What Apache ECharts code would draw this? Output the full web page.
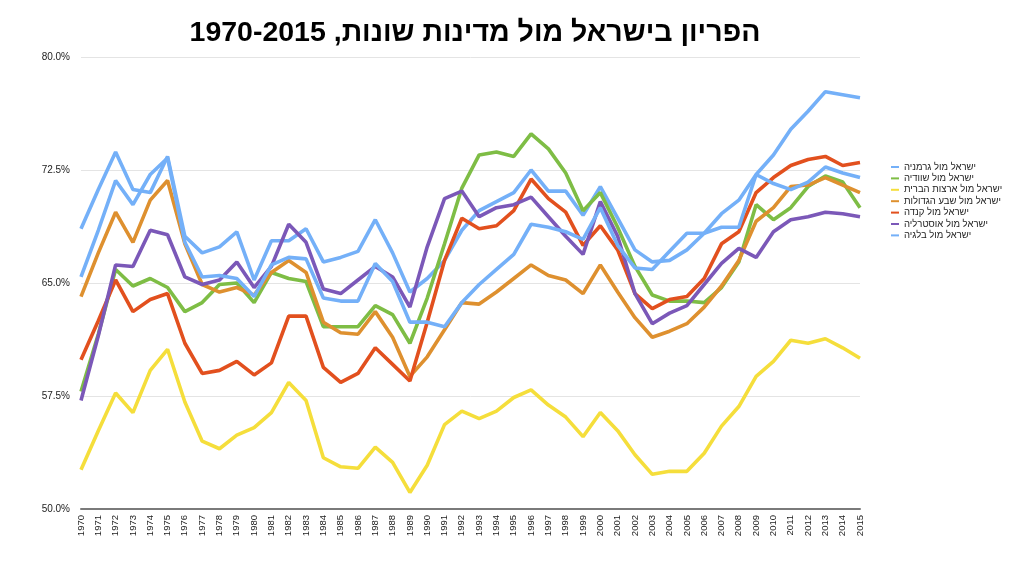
<!DOCTYPE html>
<html>
<head>
<meta charset="utf-8">
<script src="https://cdn.jsdelivr.net/npm/echarts@6/dist/echarts.min.js"></script>
<style>
html,body{margin:0;padding:0;background:#fff;}
#chart{width:1024px;height:565px;}
</style>
</head>
<body>
<div id="chart"></div>
<script>
const years = [];
for (let y = 1970; y <= 2015; y++) years.push(String(y));

const titleText = 'הפריון בישראל מול מדינות שונות, 1970-2015';
const seriesNames = [
  'ישראל מול גרמניה',
  'ישראל מול שוודיה',
  'ישראל מול ארצות הברית',
  'ישראל מול שבע הגדולות',
  'ישראל מול קנדה',
  'ישראל מול אוסטרליה',
  'ישראל מול בלגיה'
];

const germany = [68.6,71.2,73.7,71.2,71.0,73.4,68.1,67.0,67.4,68.4,
  65.2,67.8,67.8,68.6,66.4,66.7,67.1,69.2,67.0,64.4,
  65.3,66.5,68.5,69.8,70.4,71.0,72.5,71.1,71.1,69.5,
  71.4,69.3,67.2,66.4,66.5,67.2,68.3,69.6,70.5,72.2,
  73.5,75.2,76.4,77.7,77.5,77.3];
const sweden = [57.8,61.6,65.9,64.8,65.3,64.7,63.1,63.7,64.9,65.0,
  63.7,65.7,65.3,65.1,62.1,62.1,62.1,63.5,62.9,61.0,
  64.0,67.6,71.3,73.5,73.7,73.4,74.9,73.9,72.3,69.8,
  71.0,68.7,66.1,64.2,63.8,63.8,63.7,64.7,66.4,70.2,
  69.2,70.0,71.4,72.1,71.7,70.0];
const usa = [52.6,55.2,57.7,56.4,59.2,60.6,57.1,54.5,54.0,54.9,
  55.4,56.4,58.4,57.2,53.4,52.8,52.7,54.1,53.1,51.1,
  52.9,55.6,56.5,56.0,56.5,57.4,57.9,56.9,56.1,54.8,
  56.4,55.2,53.6,52.3,52.5,52.5,53.7,55.5,56.8,58.8,
  59.8,61.2,61.0,61.3,60.7,60.0];
const g7 = [64.1,67.0,69.7,67.7,70.5,71.8,67.6,64.9,64.4,64.7,
  64.2,65.7,66.5,65.7,62.4,61.7,61.6,63.1,61.4,58.8,
  60.1,61.9,63.7,63.6,64.4,65.3,66.2,65.5,65.2,64.3,
  66.2,64.4,62.7,61.4,61.8,62.3,63.4,64.8,66.5,69.1,
  70.0,71.4,71.5,72.0,71.5,71.0];
const canada = [59.9,62.5,65.2,63.1,63.9,64.3,61.0,59.0,59.2,59.8,
  58.9,59.7,62.8,62.8,59.4,58.4,59.0,60.7,59.6,58.5,
  62.4,66.5,69.3,68.6,68.8,69.8,71.9,70.6,69.7,67.5,
  68.8,67.2,64.3,63.3,63.9,64.1,65.3,67.6,68.4,71.0,
  72.0,72.8,73.2,73.4,72.8,73.0];
const australia = [57.2,61.5,66.2,66.1,68.5,68.2,65.4,64.9,65.2,66.4,
  64.7,66.1,68.9,67.7,64.6,64.3,65.2,66.1,65.4,63.4,
  67.4,70.6,71.1,69.4,70.0,70.2,70.7,69.4,68.1,66.9,
  70.4,68.1,64.3,62.3,63.0,63.5,64.9,66.3,67.3,66.7,
  68.4,69.2,69.4,69.7,69.6,69.4];
const belgium = [65.4,68.5,71.8,70.2,72.2,73.3,67.7,65.4,65.5,65.3,
  64.1,66.2,66.7,66.6,64.0,63.8,63.8,66.3,65.1,62.4,
  62.4,62.1,63.7,64.9,65.9,66.9,68.9,68.7,68.4,67.9,
  70.0,67.5,66.0,65.9,67.1,68.3,68.3,68.7,68.7,72.2,
  71.6,71.2,71.7,72.7,72.3,72.0];

const seriesData = [germany, sweden, usa, g7, canada, australia, belgium];
const colors = ['#74b0f8','#7ebd45','#f5de3b','#de902f','#e2501e','#7b58b8','#74b0f8'];

const FONT = '"Liberation Sans", "DejaVu Sans", Arial, sans-serif';

const chart = echarts.init(document.getElementById('chart'), null, {renderer:'canvas'});
chart.setOption({
  animation: false,
  backgroundColor: '#fff',
  color: colors,
  title: {
    text: '\u202B' + titleText + '\u202C',
    left: 470, top: 14,
    textAlign: 'center',
    textStyle: {fontFamily: FONT, fontSize: 28.5, fontWeight: 'bold', color: '#000'}
  },
  legend: {
    orient: 'vertical',
    left: 886, top: 157,
    icon: 'rect',
    itemWidth: 8, itemHeight: 2,
    itemGap: 1.4,
    align: 'left',
    textStyle: {fontFamily: FONT, fontSize: 9.5, color: '#222', lineHeight: 10},
    data: seriesNames
  },
  grid: {left: 81, right: 164, top: 57, bottom: 56, containLabel: false},
  xAxis: {
    type: 'category',
    data: years,
    boundaryGap: false,
    axisLine: {lineStyle: {color: '#7a7a7a', width: 2}},
    axisTick: {show: false},
    axisLabel: {rotate: 90, fontFamily: FONT, fontSize: 9.5, color: '#222', margin: 6, interval: 0}
  },
  yAxis: {
    type: 'value',
    min: 50, max: 80, interval: 7.5,
    axisLine: {show: false},
    axisTick: {show: false},
    splitLine: {lineStyle: {color: '#e4e4e4', width: 1}},
    axisLabel: {fontFamily: FONT, fontSize: 10, color: '#222', margin: 11,
      formatter: v => v.toFixed(1) + '%'}
  },
  series: seriesNames.map((n, i) => ({
    name: n,
    type: 'line',
    data: seriesData[i],
    showSymbol: false,
    symbol: 'none',
    lineStyle: {width: 3.6, color: colors[i]},
    itemStyle: {color: colors[i]}
  }))
});
</script>
</body>
</html>
